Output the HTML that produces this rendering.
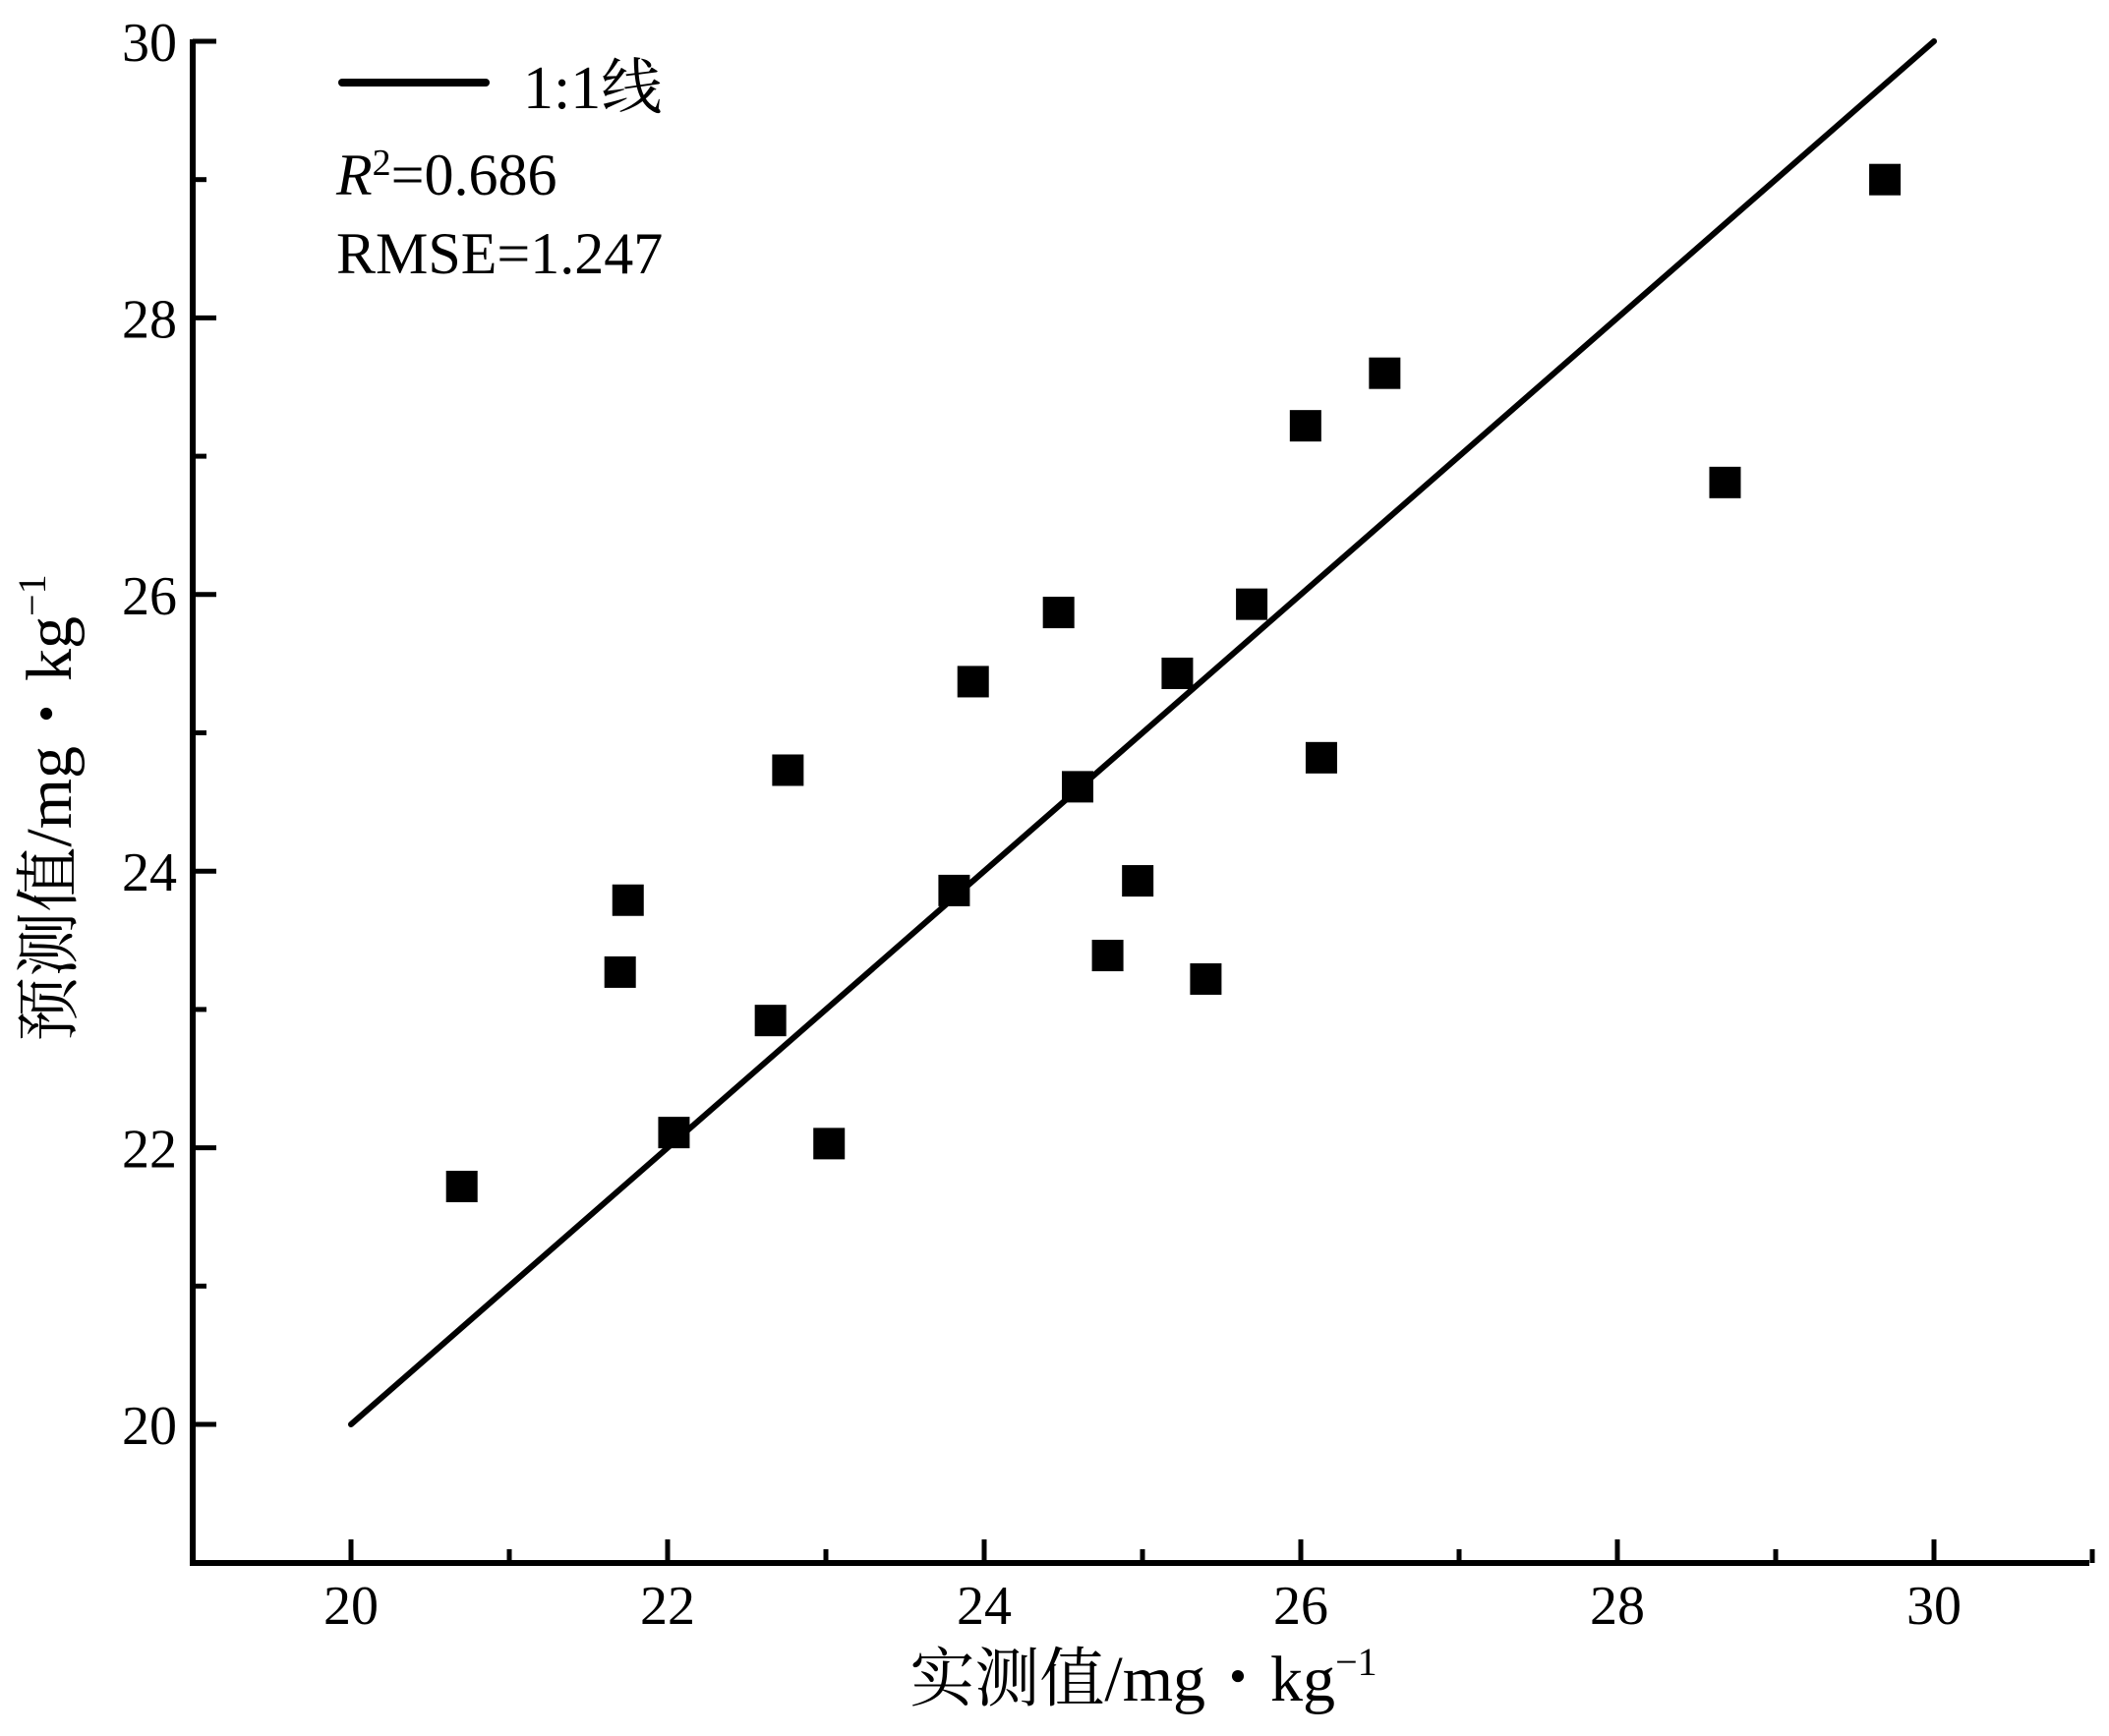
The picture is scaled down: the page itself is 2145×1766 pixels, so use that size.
<!DOCTYPE html>
<html><head><meta charset="utf-8"><style>
html,body{margin:0;padding:0;background:#fff;}
svg{display:block;font-family:"Liberation Serif","Noto Serif CJK SC",serif;}
</style></head><body>
<svg id="chart" width="2145" height="1766" viewBox="0 0 2145 1766" xmlns="http://www.w3.org/2000/svg">
<g id="axes"></g>
<g id="marks"></g>
<g>
<line x1="348" y1="84" x2="494" y2="84" stroke="#000" stroke-width="8" stroke-linecap="round"/>
<text x="532" y="110" font-size="62">1:1线</text>
<text x="342" y="198" font-size="60"><tspan font-style="italic">R</tspan><tspan font-size="38" dy="-20">2</tspan><tspan dy="20">=0.686</tspan></text>
<text x="342" y="278" font-size="60">RMSE=1.247</text>
</g>
<text x="1163" y="1730" font-size="66" text-anchor="middle">实测值/mg・kg<tspan font-size="40" dy="-26">−1</tspan></text>
<text transform="translate(72,822) rotate(-90)" font-size="66" text-anchor="middle">预测值/mg・kg<tspan font-size="40" dy="-26">−1</tspan></text>
</svg>
<script>
const xValues=[20.70,21.70,21.75,22.04,22.65,22.76,23.02,23.81,23.93,24.47,24.59,24.78,24.97,25.22,25.40,25.69,26.03,26.13,26.53,28.68,29.69];
const yValues=[21.72,23.27,23.79,22.11,22.92,24.73,22.03,23.86,25.37,25.87,24.61,23.39,23.93,25.43,23.22,25.93,27.22,24.82,27.60,26.81,29.00];
const xTicks=[20,22,24,26,28,30];
const yTicks=[20,22,24,26,28,30];
const xMinor=[21,23,25,27,29,31];
const yMinor=[21,23,25,27,29];
const oneToOne=[20,30];

const NS="http://www.w3.org/2000/svg";
const X0=196,Y0=1590,XR=2125;
function sx(v){return 357+(v-20)*161;}
function sy(v){return 1449-(v-20)*140.7;}
function mk(tag,attrs,parent){const e=document.createElementNS(NS,tag);for(const k in attrs)e.setAttribute(k,attrs[k]);parent.appendChild(e);return e;}
const axes=document.getElementById('axes');
const marks=document.getElementById('marks');

let yl=mk('line',{x1:X0,y1:sy(30)-2,x2:X0,y2:Y0+3,stroke:'#000','stroke-width':6},axes);


let xl=mk('line',{x1:X0-3,y1:Y0,x2:XR,y2:Y0,stroke:'#000','stroke-width':6},axes);



xTicks.forEach(v=>{
  const t=mk('line',{x1:sx(v),y1:Y0,x2:sx(v),y2:Y0-24,stroke:'#000','stroke-width':5},axes);
  
  
  const l=mk('text',{x:sx(v),y:1652,'font-size':56,'text-anchor':'middle'},axes);
  l.textContent=v;
  
  
});
xMinor.forEach(v=>{
  const t=mk('line',{x1:sx(v),y1:Y0,x2:sx(v),y2:Y0-14,stroke:'#000','stroke-width':5},axes);
  
  
});
yTicks.forEach(v=>{
  const t=mk('line',{x1:X0,y1:sy(v),x2:X0+24,y2:sy(v),stroke:'#000','stroke-width':5},axes);
  
  
  const l=mk('text',{x:180,y:sy(v)+20,'font-size':56,'text-anchor':'end'},axes);
  l.textContent=v;
  
  
});
yMinor.forEach(v=>{
  const t=mk('line',{x1:X0,y1:sy(v),x2:X0+14,y2:sy(v),stroke:'#000','stroke-width':5},axes);
  
  
});

const ref=mk('line',{x1:sx(oneToOne[0]),y1:sy(oneToOne[0]),x2:sx(oneToOne[1]),y2:sy(oneToOne[1]),stroke:'#000','stroke-width':6,'stroke-linecap':'round'},marks);



const S=32;
xValues.forEach((xv,i)=>{
  const r=mk('rect',{x:sx(xv)-S/2,y:sy(yValues[i])-S/2,width:S,height:S,fill:'#000'},marks);
  
  
});
</script>
</body></html>
